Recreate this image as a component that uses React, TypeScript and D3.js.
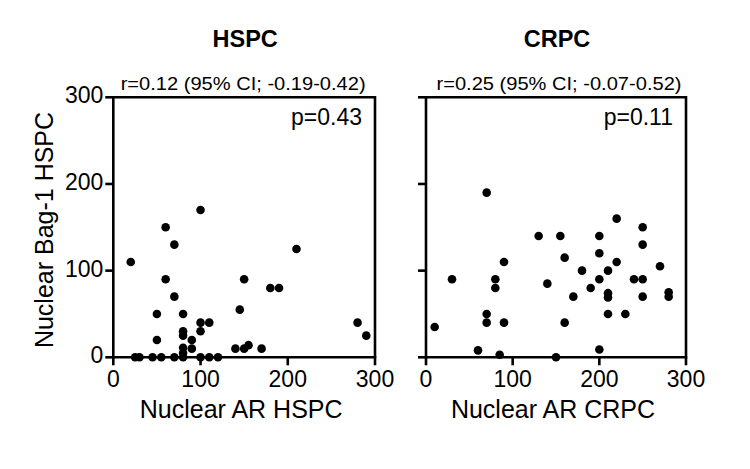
import React from "react";
import * as d3 from "d3";

const panelTitles = ["HSPC", "CRPC"];
const corrTexts = ["r=0.12 (95% CI; -0.19-0.42)", "r=0.25 (95% CI; -0.07-0.52)"];
const pTexts = ["p=0.43", "p=0.11"];
const xTitles = ["Nuclear AR HSPC", "Nuclear AR CRPC"];
const yTitle = "Nuclear Bag-1 HSPC";
const tickValues = [0, 100, 200, 300];

const hspcX = [20, 60, 70, 100, 60, 70, 50, 80, 100, 110, 80, 80, 100, 90, 50, 80, 80, 90, 150, 145, 180, 190, 210, 140, 150, 155, 170, 280, 290, 25, 30, 45, 55, 70, 80, 100, 110, 120];
const hspcY = [110, 150, 130, 170, 90, 70, 50, 50, 40, 40, 30, 25, 30, 20, 20, 11, 5, 10, 90, 55, 80, 80, 125, 10, 10, 14, 10, 40, 25, 0, 0, 0, 0, 0, 0, 0, 0, 0];

const crpcX = [70, 10, 30, 80, 80, 90, 70, 70, 90, 60, 85, 130, 155, 160, 140, 170, 160, 150, 180, 190, 200, 200, 200, 200, 210, 210, 210, 210, 220, 220, 230, 240, 250, 250, 250, 250, 270, 280, 280];
const crpcY = [190, 35, 90, 90, 80, 110, 50, 40, 40, 8, 3, 140, 140, 115, 85, 70, 40, 0, 100, 80, 140, 120, 90, 9, 100, 74, 69, 50, 160, 110, 50, 90, 150, 130, 90, 70, 105, 75, 70];

const FONT = "'Liberation Sans', Arial, Helvetica, sans-serif";

const panels = [
  { x0: 113.3, x1: 375, xs: hspcX, ys: hspcY, showYLabels: true },
  { x0: 426, x1: 686, xs: crpcX, ys: crpcY, showYLabels: false },
];
const yTop = 97.3;
const yBottom = 357.3;
const LW = 2.6;

function Panel({ idx }: { idx: number }) {
  const p = panels[idx];
  const x = d3.scaleLinear().domain([0, 300]).range([p.x0, p.x1]);
  const y = d3.scaleLinear().domain([0, 300]).range([yBottom, yTop]);
  const cx = (p.x0 + p.x1) / 2;
  return (
    <g>
      <text x={cx + 1} y={46.5} textAnchor="middle" fontFamily={FONT} fontWeight="bold" fontSize={23.5} fill="#000">
        {panelTitles[idx]}
      </text>
      <text x={cx - 1 + idx * 4} y={90} textAnchor="middle" fontFamily={FONT} fontSize={19} fill="#000" textLength={245} lengthAdjust="spacingAndGlyphs">
        {corrTexts[idx]}
      </text>
      <text x={p.x1 - 13} y={124.5} textAnchor="end" fontFamily={FONT} fontSize={23} fill="#000">
        {pTexts[idx]}
      </text>
      {/* frame */}
      <line x1={x(0)} x2={x(300)} y1={y(300)} y2={y(300)} stroke="#000" strokeWidth={LW} />
      <line x1={x(300)} x2={x(300)} y1={y(300) - LW / 2} y2={y(0)} stroke="#000" strokeWidth={LW} />
      <line x1={x(0)} x2={x(0)} y1={y(300) - LW / 2} y2={y(0) + LW / 2} stroke="#000" strokeWidth={LW} />
      <line x1={x(0) - LW / 2} x2={x(300) + LW / 2} y1={y(0)} y2={y(0)} stroke="#000" strokeWidth={LW} />
      {tickValues.map((t) => (
        <g key={"y" + t}>
          <line x1={x(0) - 8} x2={x(0)} y1={y(t)} y2={y(t)} stroke="#000" strokeWidth={LW} />
          {p.showYLabels && (
            <text x={x(0) - 10} y={y(t) + 6} textAnchor="end" fontFamily={FONT} fontSize={23} fill="#000">
              {t}
            </text>
          )}
        </g>
      ))}
      {tickValues.map((t) => (
        <g key={"x" + t}>
          <line x1={x(t)} x2={x(t)} y1={y(0)} y2={y(0) + 8} stroke="#000" strokeWidth={LW} />
          <text x={x(t)} y={386.5} textAnchor="middle" fontFamily={FONT} fontSize={23} fill="#000">
            {t}
          </text>
        </g>
      ))}
      <text x={cx - 3} y={418} textAnchor="middle" fontFamily={FONT} fontSize={25} fill="#000">
        {xTitles[idx]}
      </text>
      {p.xs.map((v, i) => (
        <circle key={i} cx={x(v)} cy={y(p.ys[i])} r={4.3} fill="#000" />
      ))}
    </g>
  );
}

export default function App() {
  return (
    <svg width={750} height={469} style={{ position: "absolute", left: 0, top: 0, background: "#fff" }}>
      <rect width={750} height={469} fill="#fff" />
      <text transform={`translate(53,230) rotate(-90)`} textAnchor="middle" fontFamily={FONT} fontSize={25} fill="#000">
        {yTitle}
      </text>
      <Panel idx={0} />
      <Panel idx={1} />
    </svg>
  );
}
